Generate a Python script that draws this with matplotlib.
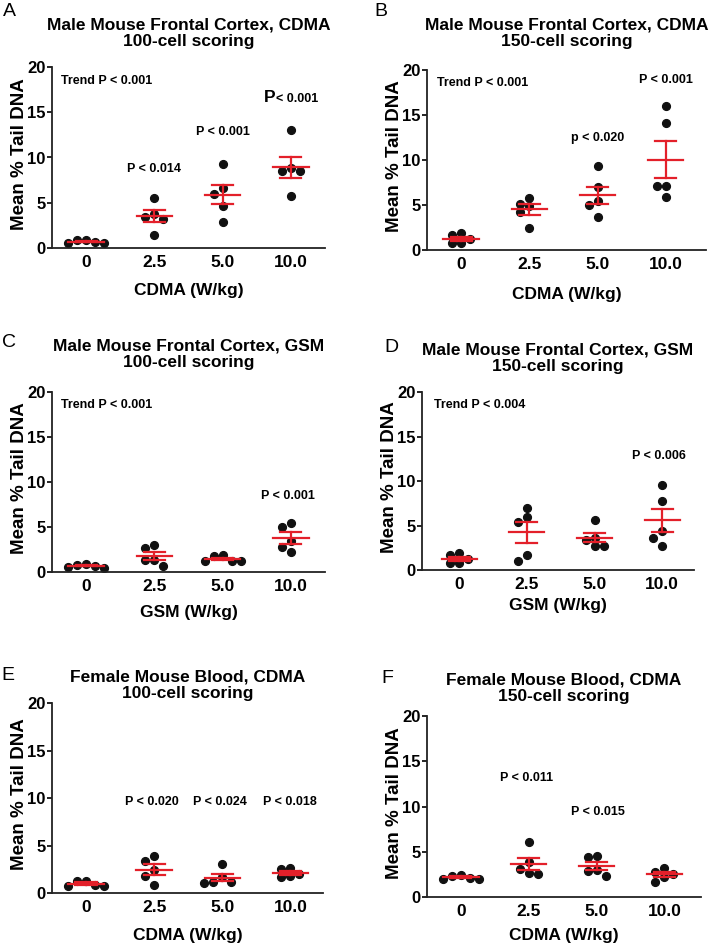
import numpy as np
import matplotlib.pyplot as plt

plt.rcParams['font.family'] = ['Liberation Sans', 'DejaVu Sans']
plt.rcParams['font.weight'] = 'bold'

doses = ['0', '2.5', '5.0', '10.0']

# mean % tail DNA per animal (5 animals per dose)
a_vals = [[0.85, 0.7, 0.5, 0.6, 0.85],
          [5.55, 3.45, 3.25, 3.8, 1.45],
          [9.3, 6.0, 6.65, 4.65, 2.9],
          [13.0, 8.55, 8.55, 8.8, 5.8]]
b_vals = [[1.85, 1.25, 0.75, 0.75, 1.7],
          [5.8, 4.9, 5.15, 4.2, 2.45],
          [9.3, 7.0, 5.4, 5.05, 3.65],
          [16.05, 14.1, 7.1, 7.1, 5.9]]
c_vals = [[0.9, 0.7, 0.5, 0.6, 0.8],
          [3.05, 2.65, 1.3, 0.7, 1.3],
          [1.85, 1.2, 1.2, 1.2, 1.8],
          [5.05, 5.45, 3.5, 2.75, 2.2]]
d_vals = [[1.9, 1.25, 0.75, 0.75, 1.65],
          [7.0, 6.0, 5.4, 1.65, 1.05],
          [5.65, 3.4, 3.65, 2.75, 2.75],
          [9.5, 7.7, 4.35, 3.65, 2.75]]
e_vals = [[1.3, 0.85, 0.7, 0.7, 1.3],
          [3.85, 3.4, 2.45, 1.8, 0.8],
          [3.1, 1.15, 1.05, 1.15, 1.65],
          [2.65, 1.95, 1.65, 1.8, 2.55]]
f_vals = [[2.45, 2.15, 2.0, 2.0, 2.3],
          [6.1, 3.85, 3.1, 2.55, 2.65],
          [4.5, 4.4, 2.95, 2.85, 2.3],
          [3.2, 2.55, 2.8, 2.2, 1.7]]

letters = ['A', 'B', 'C', 'D', 'E', 'F']
titles = ['Male Mouse Frontal Cortex, CDMA\n100-cell scoring',
          'Male Mouse Frontal Cortex, CDMA\n150-cell scoring',
          'Male Mouse Frontal Cortex, GSM\n100-cell scoring',
          'Male Mouse Frontal Cortex, GSM\n150-cell scoring',
          'Female Mouse Blood, CDMA\n100-cell scoring',
          'Female Mouse Blood, CDMA\n150-cell scoring']
xlabels = ['CDMA (W/kg)', 'CDMA (W/kg)', 'GSM (W/kg)',
           'GSM (W/kg)', 'CDMA (W/kg)', 'CDMA (W/kg)']
pvals = [[(-0.37, 18.4, 'Trend P < 0.001', 'left'), (1, 8.7, 'P < 0.014', 'center'),
          (2, 12.8, 'P < 0.001', 'center')],
         [(-0.35, 18.55, 'Trend P < 0.001', 'left'), (3, 18.9, 'P < 0.001', 'center'),
          (2, 12.4, 'p < 0.020', 'center')],
         [(-0.37, 18.6, 'Trend P < 0.001', 'left'), (2.96, 8.5, 'P < 0.001', 'center')],
         [(-0.37, 18.5, 'Trend P < 0.004', 'left'), (2.95, 12.8, 'P < 0.006', 'center')],
         [(0.97, 9.6, 'P < 0.020', 'center'), (1.97, 9.6, 'P < 0.024', 'center'),
          (3.0, 9.6, 'P < 0.018', 'center')],
         [(0.97, 13.2, 'P < 0.011', 'center'), (2.02, 9.4, 'P < 0.015', 'center')]]
all_vals = [a_vals, b_vals, c_vals, d_vals, e_vals, f_vals]

# layout in pixels: left, top, right, bottom, xmin, xmax, title y, xlabel y, letter x, letter y
W, H = 709, 947
layout = [(52, 67, 325, 248, -0.5, 3.5, 33, 290, 9, 12),
          (427, 70, 706, 250, -0.5, 3.59, 33, 295, 381, 12),
          (52, 392, 325, 572, -0.5, 3.5, 354, 613, 9, 342),
          (422, 392, 694, 570, -0.55, 3.47, 358, 605, 391, 348),
          (52, 703, 323, 893, -0.5, 3.48, 685, 935, 8, 675),
          (427, 716, 701, 897, -0.5, 3.54, 688, 935, 387, 678)]

RED = '#e3202a'


def swarm_x(ax, i, vals, step=9.0, dia=8.0):
    # spread points sideways when they would overlap (px units)
    x0, _ = ax.transData.transform((i, 0))
    order = np.argsort(vals)[::-1]
    placed = []
    xs = np.zeros(len(vals))
    cands = [0, -1, 1, -2, 2, -3, 3]
    for j in order:
        _, py = ax.transData.transform((i, vals[j]))
        for k in cands:
            px = x0 + k * step
            if all(np.hypot(px - qx, py - qy) >= dia for qx, qy in placed):
                break
        placed.append((px, py))
        xs[j] = ax.transData.inverted().transform((px, py))[0]
    return xs


fig = plt.figure(figsize=(W / 100, H / 100), dpi=100)

for n in range(6):
    l, t, r, b, x_lo, x_hi, ty, xly, lx, ly = layout[n]
    ax = fig.add_axes([l / W, 1 - b / H, (r - l) / W, (b - t) / H])
    ax.set_xlim(x_lo, x_hi)
    ax.set_ylim(0, 20)

    for i, vals in enumerate(all_vals[n]):
        vals = np.array(vals)
        xs = swarm_x(ax, i, vals)
        ax.plot(xs, vals, 'o', color='#111111', ms=5.6, zorder=2)
        m = vals.mean()
        s = vals.std(ddof=1) / np.sqrt(len(vals))
        ax.plot([i - 0.26, i + 0.26], [m, m], color=RED, lw=1.6, zorder=3)
        ax.plot([i, i], [m - s, m + s], color=RED, lw=1.6, zorder=3)
        ax.plot([i - 0.155, i + 0.155], [m + s, m + s], color=RED, lw=1.6, zorder=3)
        ax.plot([i - 0.155, i + 0.155], [m - s, m - s], color=RED, lw=1.6, zorder=3)

    for x, y, txt, ha in pvals[n]:
        ax.text(x, y, txt, ha=ha, va='center', fontsize=9, fontweight='bold')
    if n == 0:
        # the bigger "P" over the 10.0 group
        ax.text(2.77, 16.1, 'P', ha='right', va='baseline', fontsize=12.5, fontweight='bold')
        ax.text(2.78, 16.1, '< 0.001', ha='left', va='baseline', fontsize=9, fontweight='bold')

    ax.set_xticks(range(4))
    ax.set_xticklabels(doses)
    ax.set_yticks([0, 5, 10, 15, 20])
    ax.tick_params(axis='x', length=0, pad=5, labelsize=12.5)
    ax.tick_params(axis='y', length=3.5, width=1.2, pad=1, labelsize=12)
    for lab in ax.get_xticklabels() + ax.get_yticklabels():
        lab.set_fontweight('bold')
    for side in ['top', 'right']:
        ax.spines[side].set_visible(False)
    for side in ['left', 'bottom']:
        ax.spines[side].set_linewidth(1.3)
        ax.spines[side].set_color('#222222')

    ax.set_ylabel('Mean % Tail DNA', fontsize=13.5, fontweight='bold')
    ax.yaxis.set_label_coords(-24 / (r - l), 0.52)

    cx = (l + r) / 2 / W
    fig.text(cx, 1 - ty / H, titles[n], ha='center', va='center',
             fontsize=12.5, fontweight='bold', linespacing=1.15)
    fig.text(cx, 1 - xly / H, xlabels[n], ha='center', va='center',
             fontsize=12.5, fontweight='bold')
    fig.text(lx / W, 1 - ly / H, letters[n], ha='center', va='center',
             fontsize=14, fontweight='normal')

fig.savefig('out.png', dpi=100)
